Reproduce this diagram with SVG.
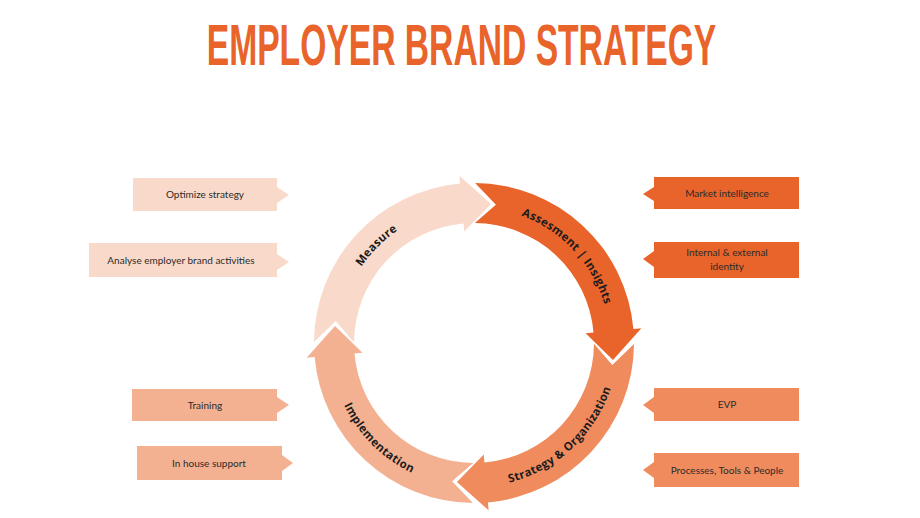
<svg xmlns="http://www.w3.org/2000/svg" xmlns:xlink="http://www.w3.org/1999/xlink" width="920" height="518" viewBox="0 0 920 518">
<style>
.title{font-family:"Liberation Sans",Arial,sans-serif;font-weight:bold;font-size:58px;fill:#E9642A}
.box{font-family:Lato,"Open Sans",sans-serif;font-size:10px;fill:#2b2b2b;text-anchor:middle}
.lbl{font-family:"Open Sans","DejaVu Sans",sans-serif;font-weight:bold;font-size:11.5px;fill:#1c1c1c;letter-spacing:0.3px}
.c1{fill:#E9642A}.c2{fill:#F08B5D}.c3{fill:#F4B191}.c4{fill:#F9DACA}
</style>
<defs>
<path id="arrow" d="M475.12,183.00 A160,160 0 0 1 633.39,329.05 L641.36,328.36 L612.96,360.06 L585.57,333.24 L593.54,332.54 A120,120 0 0 0 474.84,223.00 L495.90,204.72 Z"/>
<path id="pMeasure" d="M340.07,319.38 A136,136 0 0 1 450.38,209.07"/>
<path id="pAssess" d="M502.28,209.97 A136,136 0 0 1 608.68,324.07"/>
<path id="pStrat" d="M494.04,485.60 A144,144 0 0 0 614.85,372.94"/>
<path id="pImpl" d="M332.19,368.01 A144,144 0 0 0 448.99,484.81"/>
</defs>
<g transform="translate(461.5,65) scale(0.58,1)">
<text class="title" x="0" y="0" text-anchor="middle">EMPLOYER BRAND STRATEGY</text>
</g>
<g id="connectors"></g>
<g id="assessment">
<use xlink:href="#arrow" class="c1"/>
<text class="lbl"><textPath xlink:href="#pAssess" startOffset="50%" text-anchor="middle">Assesment | Insights</textPath></text>
</g>
<g id="strategy">
<use xlink:href="#arrow" class="c2" transform="rotate(90 474 343)"/>
<text class="lbl"><textPath xlink:href="#pStrat" startOffset="50%" text-anchor="middle">Strategy &amp; Organization</textPath></text>
</g>
<g id="implementation">
<use xlink:href="#arrow" class="c3" transform="rotate(180 474 343)"/>
<text class="lbl"><textPath xlink:href="#pImpl" startOffset="50%" text-anchor="middle">Implementation</textPath></text>
</g>
<g id="measure">
<use xlink:href="#arrow" class="c4" transform="rotate(270 474 343)"/>
<text class="lbl"><textPath xlink:href="#pMeasure" startOffset="50%" text-anchor="middle">Measure</textPath></text>
</g>
<g id="optimize">
<polygon class="c4" points="133,178 277,178 277,187 289,195 277,203 277,211 133,211"/>
<text class="box" x="205" y="198">Optimize strategy</text>
</g>
<g id="analyse">
<polygon class="c4" points="89,243 277,243 277,254 289,262 277,270 277,277 89,277"/>
<text class="box" x="181" y="264">Analyse employer brand activities</text>
</g>
<g id="training">
<polygon class="c3" points="132,389 277,389 277,397 289,405 277,413 277,421 132,421"/>
<text class="box" x="205" y="409">Training</text>
</g>
<g id="inhouse">
<polygon class="c3" points="137,446 282,446 282,455 293,463 282,471 282,480 137,480"/>
<text class="box" x="209" y="467">In house support</text>
</g>
<g id="market">
<polygon class="c1" points="654,177 799,177 799,209 654,209 654,201 643,194 654,187"/>
<text class="box" x="727" y="197">Market intelligence</text>
</g>
<g id="identity">
<polygon class="c1" points="654,242 799,242 799,278 654,278 654,267 643,259 654,251"/>
<text class="box" x="727" y="256">Internal &amp; external</text>
<text class="box" x="727" y="270">identity</text>
</g>
<g id="evp">
<polygon class="c2" points="654,388 799,388 799,421 654,421 654,413 643,405 654,397"/>
<text class="box" x="727" y="408">EVP</text>
</g>
<g id="processes">
<polygon class="c2" points="654,453 799,453 799,487 654,487 654,478 643,470 654,462"/>
<text class="box" x="727" y="474">Processes, Tools &amp; People</text>
</g>
</svg>
